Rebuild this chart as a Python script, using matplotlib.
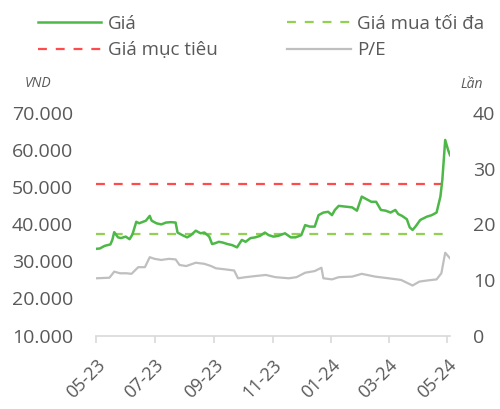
import pandas as pd
import matplotlib
matplotlib.use('Agg')
import matplotlib.pyplot as plt
import matplotlib.dates as mdates

plt.rcParams['font.family'] = ['Open Sans', 'DejaVu Sans']

# gia co phieu (VND)
price_dates = ['2023-05-01', '2023-05-05', '2023-05-10', '2023-05-16', '2023-05-18', '2023-05-20',
               '2023-05-24', '2023-05-27', '2023-06-01', '2023-06-05', '2023-06-08', '2023-06-12',
               '2023-06-15', '2023-06-19', '2023-06-22', '2023-06-26', '2023-06-28', '2023-07-03',
               '2023-07-08', '2023-07-13', '2023-07-18', '2023-07-23', '2023-07-25', '2023-07-30',
               '2023-08-04', '2023-08-08', '2023-08-13', '2023-08-18', '2023-08-22', '2023-08-27',
               '2023-08-30', '2023-09-02', '2023-09-06', '2023-09-10', '2023-09-15', '2023-09-20',
               '2023-09-25', '2023-09-30', '2023-10-04', '2023-10-09', '2023-10-14', '2023-10-19',
               '2023-10-24', '2023-10-28', '2023-11-02', '2023-11-07', '2023-11-14', '2023-11-20',
               '2023-11-25', '2023-12-01', '2023-12-05', '2023-12-10', '2023-12-15', '2023-12-19',
               '2023-12-24', '2023-12-29', '2024-01-02', '2024-01-05', '2024-01-09', '2024-01-16',
               '2024-01-23', '2024-01-28', '2024-02-02', '2024-02-07', '2024-02-12', '2024-02-17',
               '2024-02-22', '2024-02-27', '2024-03-03', '2024-03-08', '2024-03-11', '2024-03-15',
               '2024-03-20', '2024-03-23', '2024-03-26', '2024-03-29', '2024-04-03', '2024-04-10',
               '2024-04-15', '2024-04-20', '2024-04-24', '2024-04-26', '2024-04-28', '2024-04-29',
               '2024-05-02', '2024-05-04']
price = [33400, 33500, 34200, 34600, 35800, 37900,
         36500, 36300, 36700, 36000, 37300, 40700,
         40300, 40700, 41000, 42300, 41000, 40300,
         40000, 40500, 40600, 40500, 37800, 37100,
         36500, 37100, 38300, 37600, 37800, 36700,
         34700, 34900, 35300, 35100, 34700, 34400,
         33800, 35800, 35300, 36300, 36500, 36900,
         37800, 37100, 36700, 36900, 37600, 36500,
         36500, 37100, 39800, 39400, 39400, 42500,
         43200, 43400, 42500, 43900, 45000, 44800,
         44600, 43700, 47500, 46800, 46100, 46100,
         43900, 43700, 43200, 43900, 42800, 42300,
         41400, 39200, 38500, 39400, 41200, 42100,
         42500, 43200, 47500, 52000, 59200, 62800,
         60100, 58700]

# P/E (lan)
pe_dates = ['2023-05-01', '2023-05-15', '2023-05-20', '2023-05-26', '2023-06-02', '2023-06-07',
            '2023-06-14', '2023-06-21', '2023-06-26', '2023-07-01', '2023-07-08', '2023-07-16',
            '2023-07-23', '2023-07-27', '2023-08-03', '2023-08-13', '2023-08-22', '2023-08-29',
            '2023-09-03', '2023-09-13', '2023-09-22', '2023-09-26', '2023-10-04', '2023-10-14',
            '2023-10-25', '2023-11-04', '2023-11-18', '2023-11-26', '2023-12-05', '2023-12-15',
            '2023-12-22', '2023-12-24', '2024-01-02', '2024-01-09', '2024-01-23', '2024-02-02',
            '2024-02-16', '2024-03-01', '2024-03-14', '2024-03-26', '2024-04-02', '2024-04-10',
            '2024-04-20', '2024-04-25', '2024-04-29', '2024-05-04']
pe = [10.3, 10.4, 11.5, 11.2, 11.2, 11.1,
      12.3, 12.3, 14.1, 13.8, 13.6, 13.8,
      13.7, 12.7, 12.5, 13.1, 12.9, 12.5,
      12.1, 11.9, 11.7, 10.3, 10.5, 10.7,
      10.9, 10.5, 10.3, 10.5, 11.3, 11.6,
      12.2, 10.3, 10.1, 10.5, 10.6, 11.1,
      10.6, 10.3, 10.0, 9.0, 9.7, 9.9,
      10.1, 11.2, 14.9, 13.9]

gia_mua_toi_da = 37500
gia_muc_tieu = 50800

tick_dates = ['2023-05-01', '2023-07-01', '2023-09-01', '2023-11-01',
              '2024-01-01', '2024-03-01', '2024-05-01']

txt = '#595959'

x_price = pd.to_datetime(price_dates)
x_pe = pd.to_datetime(pe_dates)

fig = plt.figure(figsize=(5, 4.09), dpi=100)
ax = fig.add_axes([0.192, 0.1797, 0.708, 0.5433])
ax2 = ax.twinx()

l_pe, = ax2.plot(x_pe, pe, color='#BFBFBF', lw=1.6, label='P/E')
l_max = ax.axhline(gia_mua_toi_da, color='#92D050', lw=1.6, dashes=(4, 4), label='Giá mua tối đa')
l_tgt = ax.axhline(gia_muc_tieu, color='#FF4B4B', lw=1.6, dashes=(4, 4), label='Giá mục tiêu')
l_pr, = ax.plot(x_price, price, color='#4DB848', lw=1.8, label='Giá')

ax.set_zorder(ax2.get_zorder() + 1)
ax.patch.set_visible(False)

ax.set_ylim(10000, 70000)
ax.set_yticks(range(10000, 70001, 10000))
ax.set_yticklabels([f'{v:,}'.replace(',', '.') for v in range(10000, 70001, 10000)])
ax2.set_ylim(0, 40)
ax2.set_yticks(range(0, 41, 10))

ax.set_xlim(pd.Timestamp('2023-05-01'), pd.Timestamp('2024-05-04'))
ax.set_xticks(pd.to_datetime(tick_dates))
ax.xaxis.set_major_formatter(mdates.DateFormatter('%m-%y'))
for lab in ax.get_xticklabels():
    lab.set_rotation(45)
    lab.set_ha('right')
    lab.set_rotation_mode('anchor')

for a in (ax, ax2):
    for s in a.spines.values():
        s.set_visible(False)
ax.spines['bottom'].set_visible(True)
ax.spines['bottom'].set_color('#D9D9D9')
ax.spines['bottom'].set_linewidth(1.2)

ax.tick_params(axis='x', colors='#D9D9D9', labelcolor=txt, length=5, width=1.2,
               labelsize=13, pad=10)
ax.tick_params(axis='y', length=0, labelcolor=txt, labelsize=14, pad=16.5)
ax2.tick_params(axis='y', length=0, labelcolor=txt, labelsize=14, pad=16.5)

fig.text(0.077, 0.797, 'VND', fontsize=10, style='italic', color=txt, ha='center', va='center')
fig.text(0.944, 0.793, 'Lần', fontsize=10, style='italic', color=txt, ha='center', va='center')

fig.legend(handles=[l_pr, l_tgt, l_max, l_pe], ncol=2, loc='upper left',
           bbox_to_anchor=(0.045, 1.0), frameon=False, fontsize=13.5, labelcolor=txt,
           handlelength=3.4, handletextpad=0.35, columnspacing=3.7, labelspacing=0.45,
           borderpad=0.3)

fig.savefig('out.png', dpi=100)
